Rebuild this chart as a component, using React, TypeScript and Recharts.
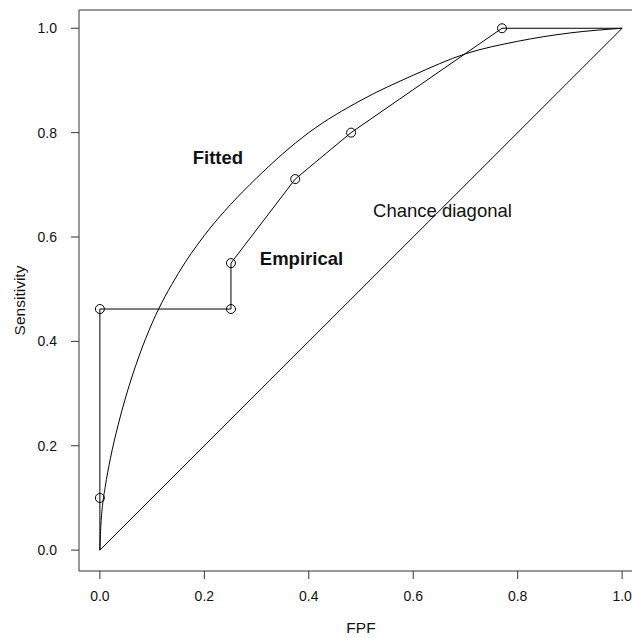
import React from "react";
import { ComposedChart, Line, Scatter, XAxis, YAxis, ReferenceLine, ReferenceDot } from "recharts";

// empirical operating points (FPF, sensitivity)
const empFpf = [0, 0, 0.251, 0.251, 0.374, 0.481, 0.77];
const empTpf = [0.1, 0.462, 0.462, 0.55, 0.711, 0.8, 1.0];

// fitted ROC curve
const fitFpf = [0, 0.001, 0.002, 0.005, 0.01, 0.02, 0.035, 0.05, 0.075, 0.1, 0.15, 0.2, 0.25, 0.3, 0.4, 0.5, 0.6, 0.7, 0.8, 0.9, 1.0];
const fitTpf = [0, 0.03, 0.05, 0.085, 0.12, 0.175, 0.24, 0.295, 0.372, 0.435, 0.53, 0.603, 0.662, 0.713, 0.8, 0.862, 0.91, 0.951, 0.975, 0.991, 1.0];

const chanceFpf = [0, 1];
const chanceTpf = [0, 1];

const ticks = [0, 0.2, 0.4, 0.6, 0.8, 1.0];

const points = empFpf.map((x, i) => ({ x, y: empTpf[i] }));
const empLine = [{ x: 0, y: 0 }, ...points, { x: 1, y: 1 }];
const fitted = fitFpf.map((x, i) => ({ x, y: fitTpf[i] }));
const chance = chanceFpf.map((x, i) => ({ x, y: chanceTpf[i] }));

const ink = "#000";
const axisInk = "#333";

const Ring = (p: any) => <circle cx={p.cx} cy={p.cy} r={4.5} fill="none" stroke={ink} strokeWidth={1} />;

export default function App() {
  const tickStyle = { fontSize: 14, fill: "#111" };
  return (
    <div style={{ position: "absolute", left: 0, top: 0, width: 632, height: 638, overflow: "hidden", background: "#fff", fontFamily: "'Liberation Sans', Arial, sans-serif" }}>
      <ComposedChart width={660} height={638} margin={{ top: 10, right: 17, bottom: 7, left: 0 }}>
        <XAxis
          type="number"
          dataKey="x"
          domain={[-0.04, 1.04]}
          ticks={ticks}
          tickFormatter={(v: number) => v.toFixed(1)}
          tick={tickStyle}
          tickSize={8}
          tickMargin={12}
          height={60}
          stroke={axisInk}
          allowDataOverflow
          label={{ value: "FPF", position: "center", dy: 26, fontSize: 15.5, fill: "#111" }}
        />
        <YAxis
          type="number"
          dataKey="y"
          domain={[-0.04, 1.035]}
          ticks={ticks}
          tickFormatter={(v: number) => v.toFixed(1)}
          tick={tickStyle}
          tickSize={8}
          tickMargin={14}
          width={79}
          stroke={axisInk}
          allowDataOverflow
          label={{ value: "Sensitivity", angle: -90, position: "center", dx: -20, dy: 10, fontSize: 15.5, fill: "#111" }}
        />
        <ReferenceLine y={1.035} stroke={axisInk} ifOverflow="visible" />
        <Line data={chance} dataKey="y" type="linear" stroke={ink} strokeWidth={1} dot={false} isAnimationActive={false} />
        <Line data={fitted} dataKey="y" type="monotone" stroke={ink} strokeWidth={1} dot={false} isAnimationActive={false} />
        <Line data={empLine} dataKey="y" type="linear" stroke={ink} strokeWidth={1} dot={false} isAnimationActive={false} />
        <Scatter data={points} dataKey="y" shape={Ring} isAnimationActive={false} />
        <ReferenceDot x={0.226} y={0.752} r={0} fill="none" stroke="none"
          label={{ value: "Fitted", position: "center", fontSize: 18.5, fontWeight: "bold", fill: "#111" }} />
        <ReferenceDot x={0.386} y={0.558} r={0} fill="none" stroke="none"
          label={{ value: "Empirical", position: "center", fontSize: 18.5, fontWeight: "bold", fill: "#111" }} />
        <ReferenceDot x={0.656} y={0.65} r={0} fill="none" stroke="none"
          label={{ value: "Chance diagonal", position: "center", fontSize: 18.5, fill: "#111" }} />
      </ComposedChart>
    </div>
  );
}
